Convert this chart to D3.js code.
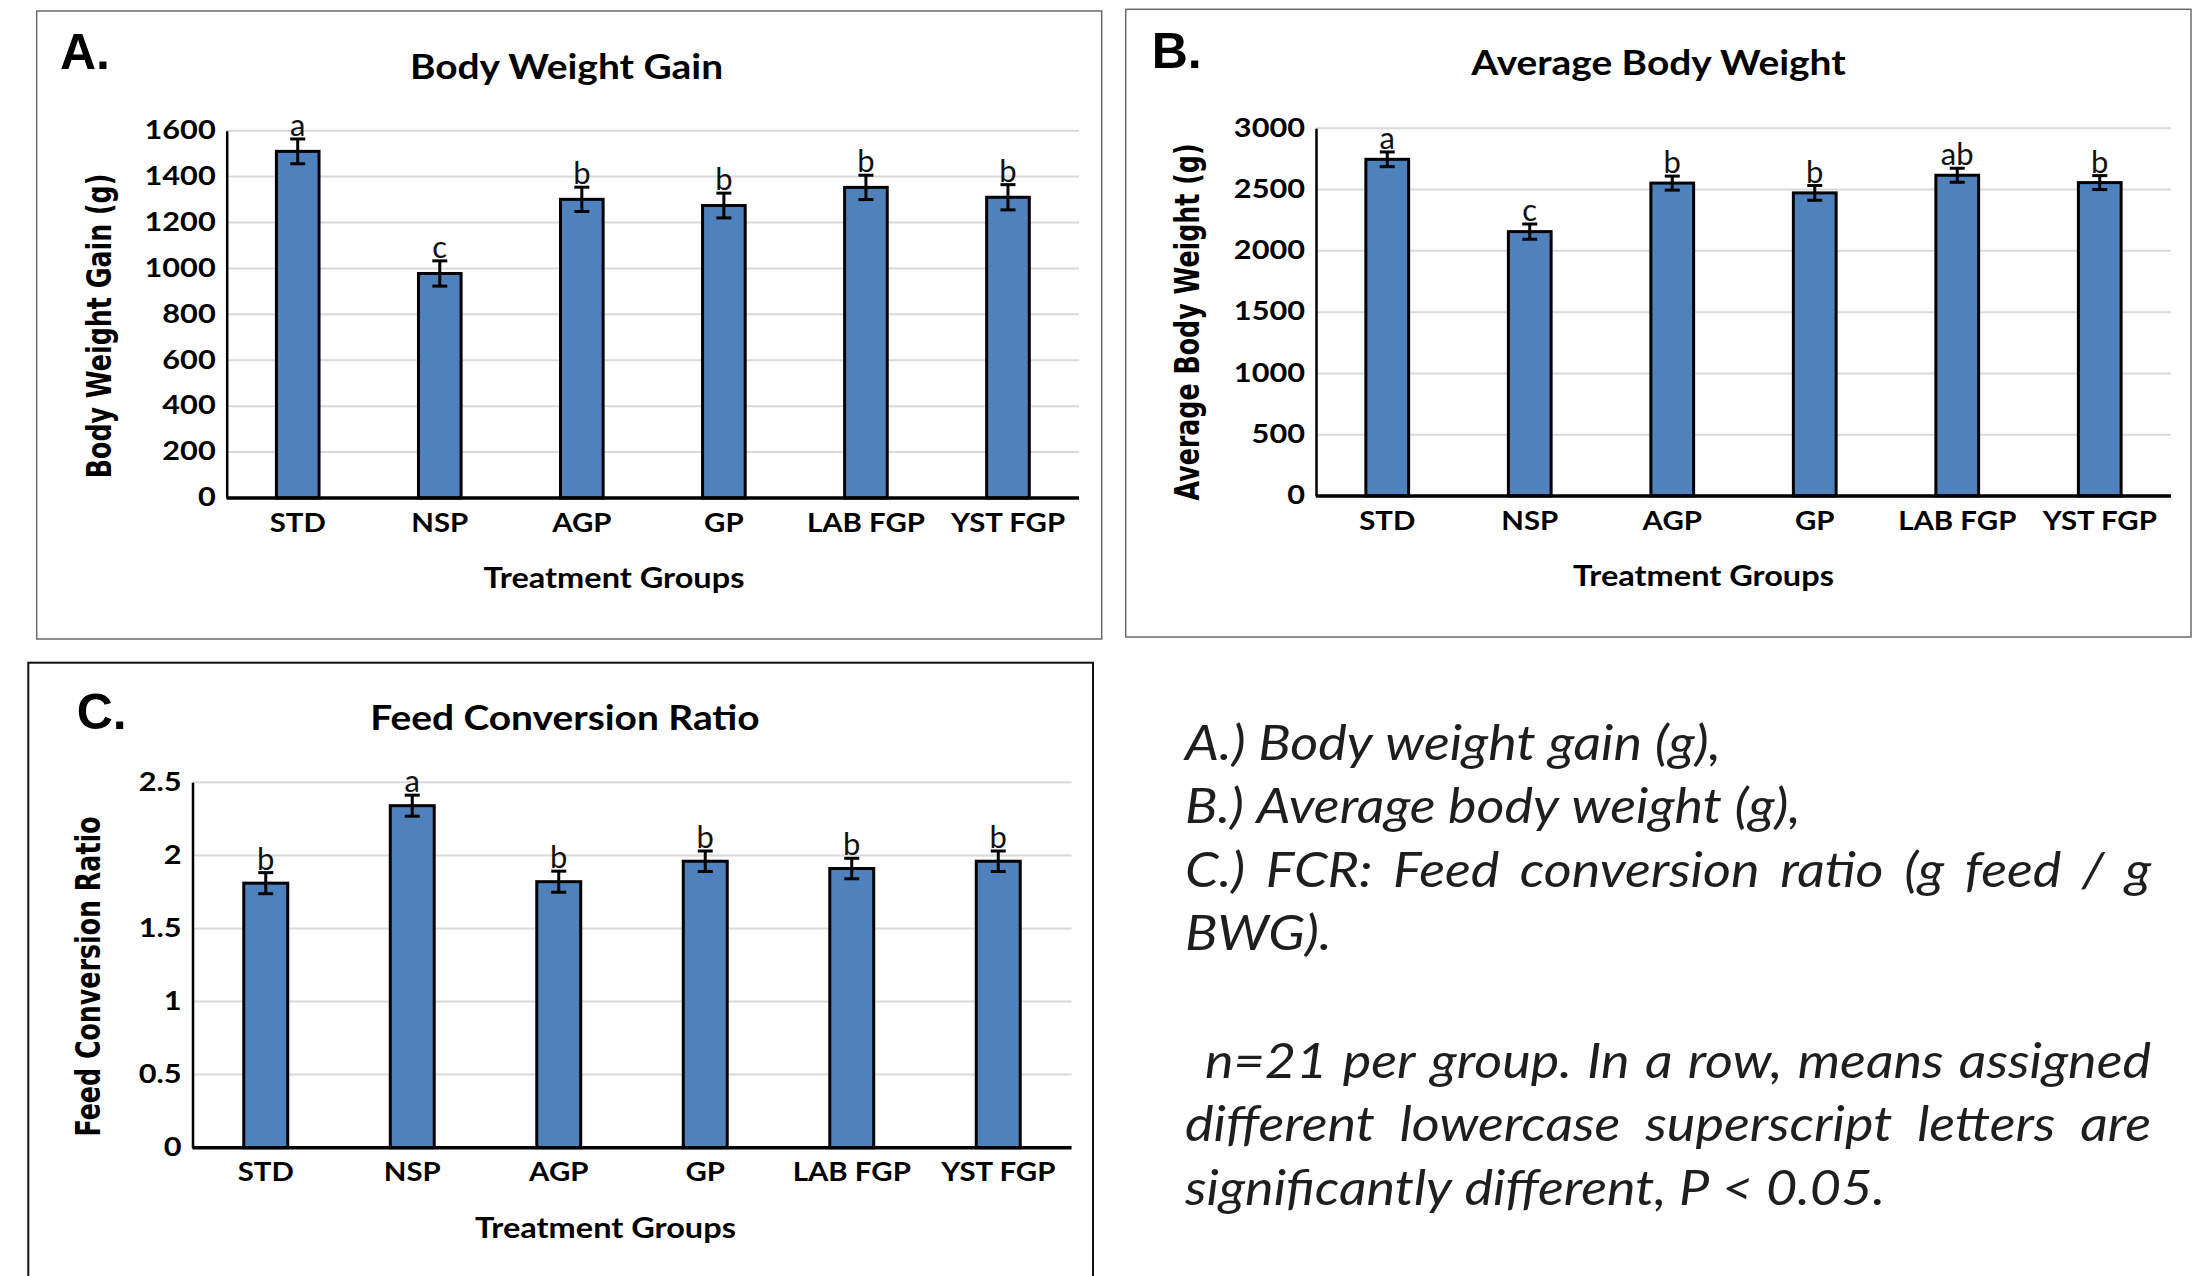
<!DOCTYPE html>
<html>
<head>
<meta charset="utf-8">
<script src="https://cdn.jsdelivr.net/npm/d3@7"></script>
<style>
  html, body { margin: 0; padding: 0; background: #fff; }
  svg { display: block; }
</style>
</head>
<body>
<svg id="fig" width="2195" height="1276"></svg>
<script>
// ---------------- DATA ----------------
const categories = ["STD", "NSP", "AGP", "GP", "LAB FGP", "YST FGP"];

const bwgMeans   = [1510, 978, 1301, 1274, 1353, 1310];
const bwgErrors  = [54, 55, 53, 54, 53, 55];
const bwgLetters = ["a", "c", "b", "b", "b", "b"];
const bwgTicks   = [0, 200, 400, 600, 800, 1000, 1200, 1400, 1600];

const abwMeans   = [2747, 2157, 2553, 2473, 2617, 2557];
const abwErrors  = [60, 62, 57, 60, 57, 57];
const abwLetters = ["a", "c", "b", "b", "ab", "b"];
const abwTicks   = [0, 500, 1000, 1500, 2000, 2500, 3000];

const fcrMeans   = [1.81, 2.34, 1.82, 1.96, 1.91, 1.96];
const fcrErrors  = [0.072, 0.072, 0.072, 0.07, 0.07, 0.07];
const fcrLetters = ["b", "a", "b", "b", "b", "b"];
const fcrTicks   = [0, 0.5, 1, 1.5, 2, 2.5];

const panelLetters = ["A.", "B.", "C."];
const chartTitles  = ["Body Weight Gain", "Average Body Weight", "Feed Conversion Ratio"];
const yAxisTitles  = ["Body Weight Gain (g)", "Average Body Weight (g)", "Feed Conversion Ratio"];
const xAxisTitle   = "Treatment Groups";

const captionLines = [
  {text: "A.) Body weight gain (g),", justify: false, indent: false},
  {text: "B.) Average body weight (g),", justify: false, indent: false},
  {text: "C.) FCR: Feed conversion ratio (g feed / g", justify: true, indent: false},
  {text: "BWG).", justify: false, indent: false},
  {text: "", justify: false, indent: false},
  {text: "n=21 per group. In a row, means assigned", justify: true, indent: true},
  {text: "different lowercase superscript letters are", justify: true, indent: false},
  {text: "significantly different, P < 0.05.", justify: false, indent: false}
];

// ---------------- LAYOUT ----------------
const BAR_FILL = "#4f81bd";
const FONT = "Lato, 'Open Sans', sans-serif";
const svg = d3.select("#fig");

function stretch(sel, k) {
  sel.each(function () {
    const w = this.getComputedTextLength();
    if (w > 0) {
      this.setAttribute("textLength", w * k);
      this.setAttribute("lengthAdjust", "spacingAndGlyphs");
    }
  });
}

const panels = [
  { means: bwgMeans, errs: bwgErrors, letters: bwgLetters, ticks: bwgTicks, fmt: d3.format("d"),
    box: [36.7, 11, 1101.7, 639], boxStroke: "#6b6b6b", boxW: 1.5,
    x0: 226.7, x1: 1079, yTop: 130.7, yZero: 498,
    lab: [60, 69], title: [566.5, 78.6], xt: [614, 588], yt: [111, 326] },
  { means: abwMeans, errs: abwErrors, letters: abwLetters, ticks: abwTicks, fmt: d3.format("d"),
    box: [1125.7, 9.3, 2191, 637], boxStroke: "#6b6b6b", boxW: 1.5,
    x0: 1316, x1: 2171, yTop: 128.3, yZero: 496,
    lab: [1151.7, 68], title: [1658.5, 75.3], xt: [1703.5, 585.7], yt: [1199, 322] },
  { means: fcrMeans, errs: fcrErrors, letters: fcrLetters, ticks: fcrTicks, fmt: d => String(d),
    box: [28.3, 662.7, 1093, 1290], boxStroke: "#111", boxW: 2,
    x0: 192.5, x1: 1071.5, yTop: 782.3, yZero: 1147.7,
    lab: [76.7, 729.3], title: [565, 730], xt: [605.5, 1237.7], yt: [100, 976.5] }
];

panels.forEach((p, i) => {
  const g = svg.append("g");
  // panel frame
  g.append("rect")
    .attr("x", p.box[0]).attr("y", p.box[1])
    .attr("width", p.box[2] - p.box[0]).attr("height", p.box[3] - p.box[1])
    .attr("fill", "none").attr("stroke", p.boxStroke).attr("stroke-width", p.boxW);

  const x = d3.scaleBand().domain(categories).range([p.x0, p.x1]).paddingInner(0.7).paddingOuter(0.35);
  const y = d3.scaleLinear().domain([0, d3.max(p.ticks)]).range([p.yZero, p.yTop]);

  // gridlines
  g.append("g").selectAll("line").data(p.ticks.filter(t => t > 0)).join("line")
    .attr("x1", p.x0).attr("x2", p.x1)
    .attr("y1", d => y(d)).attr("y2", d => y(d))
    .attr("stroke", "#d9d9d9").attr("stroke-width", 2);

  // bars
  g.append("g").selectAll("rect").data(p.means).join("rect")
    .attr("x", (d, j) => x(categories[j]))
    .attr("width", x.bandwidth())
    .attr("y", d => y(d))
    .attr("height", d => y(0) - y(d))
    .attr("fill", BAR_FILL).attr("stroke", "#000").attr("stroke-width", 3);

  // error bars
  const eg = g.append("g").attr("stroke", "#000").attr("stroke-width", 3);
  p.means.forEach((m, j) => {
    const cx = x(categories[j]) + x.bandwidth() / 2;
    const e = p.errs[j];
    eg.append("line").attr("x1", cx).attr("x2", cx).attr("y1", y(m - e)).attr("y2", y(m + e));
    eg.append("line").attr("x1", cx - 7.5).attr("x2", cx + 7.5).attr("y1", y(m + e)).attr("y2", y(m + e));
    eg.append("line").attr("x1", cx - 7.5).attr("x2", cx + 7.5).attr("y1", y(m - e)).attr("y2", y(m - e));
  });

  // significance letters
  g.append("g").selectAll("text").data(p.letters).join("text")
    .attr("x", (d, j) => x(categories[j]) + x.bandwidth() / 2)
    .attr("y", (d, j) => y(p.means[j] + p.errs[j]) - 3)
    .attr("text-anchor", "middle")
    .style("font-family", FONT).style("font-size", "31px").attr("fill", "#111")
    .text(d => d);

  // y axis
  const yAxis = g.append("g").attr("transform", `translate(${p.x0},0)`)
    .call(d3.axisLeft(y).tickValues(p.ticks).tickFormat(p.fmt).tickSize(0).tickPadding(11));
  yAxis.select(".domain").attr("stroke", "#000").attr("stroke-width", 2.5);
  const yt = yAxis.selectAll(".tick text")
    .attr("dy", "0.3em")
    .style("font-family", FONT).style("font-weight", "700").style("font-size", "26px").attr("fill", "#000");
  stretch(yt, 1.18);

  // x axis
  const xAxis = g.append("g").attr("transform", `translate(0,${p.yZero})`)
    .call(d3.axisBottom(x).tickSize(0).tickSizeOuter(0));
  xAxis.select(".domain").attr("stroke", "#000").attr("stroke-width", 3.5)
    .attr("d", `M${p.x0},0H${p.x1}`);
  const xt = xAxis.selectAll(".tick text")
    .attr("y", 33.8).attr("dy", 0)
    .style("font-family", FONT).style("font-weight", "700").style("font-size", "26px").attr("fill", "#000");
  stretch(xt, 1.13);

  // panel letter
  g.append("text").attr("x", p.lab[0]).attr("y", p.lab[1])
    .style("font-family", "'Liberation Sans', Arial, sans-serif").style("font-weight", "700")
    .style("font-size", "50px").attr("fill", "#000").text(panelLetters[i]);

  // chart title
  const ti = g.append("text").attr("x", p.title[0]).attr("y", p.title[1]).attr("text-anchor", "middle")
    .style("font-family", FONT).style("font-weight", "700").style("font-size", "35px").attr("fill", "#000")
    .text(chartTitles[i]);
  stretch(ti, 1.11);

  // x axis title
  const xat = g.append("text").attr("x", p.xt[0]).attr("y", p.xt[1]).attr("text-anchor", "middle")
    .style("font-family", FONT).style("font-weight", "700").style("font-size", "28px").attr("fill", "#000")
    .text(xAxisTitle);
  stretch(xat, 1.16);

  // y axis title (glyph height widened like the reference)
  g.append("text")
    .attr("transform", `translate(${p.yt[0]},${p.yt[1]}) rotate(-90) scale(1,1.3)`)
    .attr("text-anchor", "middle")
    .style("font-family", "'DejaVu Sans', Verdana, sans-serif").style("font-weight", "700")
    .style("font-size", "25.3px").attr("fill", "#000")
    .text(yAxisTitles[i]);
});

// ---------------- CAPTION ----------------
const capL = 1185, capR = 2151, capTop = 759.5, capStep = 63.6, capLine1W = 534, capIndent = 20;
const cg = svg.append("g").style("font-family", FONT).style("font-style", "italic")
  .style("font-size", "48px").attr("fill", "#1e1e1e");

function measure(str) {
  const t = cg.append("text").attr("x", -1000).attr("y", -1000).text(str);
  const w = t.node().getComputedTextLength();
  t.remove();
  return w;
}
const capK = capLine1W / measure(captionLines[0].text);
const spaceW = (measure("a a") - measure("aa")) * capK;

captionLines.forEach((ln, i) => {
  if (!ln.text) return;
  const yb = capTop + i * capStep;
  const words = ln.text.split(" ");
  const widths = words.map(w => measure(w) * capK);
  const start = capL + (ln.indent ? capIndent : 0);
  let gap = spaceW;
  if (ln.justify && words.length > 1) {
    gap = (capR - start - d3.sum(widths)) / (words.length - 1);
  }
  let cx = start;
  words.forEach((w, j) => {
    cg.append("text").attr("x", cx).attr("y", yb)
      .attr("textLength", widths[j]).attr("lengthAdjust", "spacingAndGlyphs")
      .text(w);
    cx += widths[j] + gap;
  });
});
</script>
</body>
</html>
